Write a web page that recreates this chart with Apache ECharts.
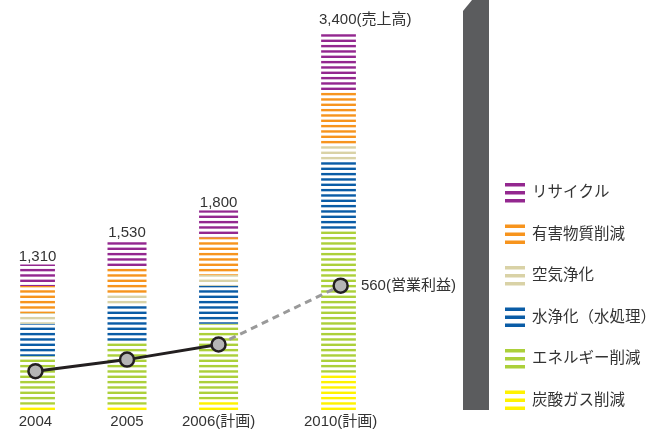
<!DOCTYPE html>
<html><head><meta charset="utf-8">
<script src="https://cdn.jsdelivr.net/npm/echarts@6/dist/echarts.min.js"></script>
<style>html,body{margin:0;padding:0;background:#fff}#c{width:649px;height:430px}</style>
</head><body><div id="c"></div>
<script>
// ---- data ----
const years = ['2004', '2005', '2006(計画)', '2010(計画)'];
const totals = [1310, 1530, 1800, 3400];
const recycle = [194, 239, 243, 527];
const hazardousReduction = [243, 239, 341, 479];
const airPurification = [97, 96, 97, 144];
const waterPurification = [291, 335, 341, 622];
const energySaving = [437, 574, 681, 1293];
const co2Reduction = [48, 47, 97, 335];
const operatingProfit = [175, 227, 295, 560];
const seriesNames = ['リサイクル', '有害物質削減', '空気浄化', '水浄化（水処理）', 'エネルギー削減', '炭酸ガス削減'];
const totalSuffix = ['', '', '', '(売上高)'];
const profitSuffix = '(営業利益)';

// ---- layout ----
const SLOT = [0, 3, 6, 10];
const NSLOTS = 11;
const FONT = '"Liberation Sans", "Noto Sans CJK JP", sans-serif';
const TXT = '#333333';

const colors = ['#93278f', '#f7941d', '#d9d2a6', '#0a5ca6', '#acd03a', '#fff200'];
const values = [recycle, hazardousReduction, airPurification, waterPurification, energySaving, co2Reduction];

function stripe(color) {
  const c = document.createElement('canvas');
  c.width = 4; c.height = 16;
  const ctx = c.getContext('2d');
  ctx.fillStyle = color;
  for (let k = 0; k < 3; k++) {
    const y = 16 / 3 * (k + 1) - 2.4;
    ctx.fillRect(0, y, 4, 2.4);
  }
  return { image: c, repeat: 'repeat', x: 0, y: 10 };
}

const cats = [];
for (let i = 0; i < NSLOTS; i++) cats.push('');
SLOT.forEach((s, i) => cats[s] = years[i]);

function spread(arr, mapFn) {
  const out = [];
  for (let i = 0; i < NSLOTS; i++) out.push(null);
  SLOT.forEach((s, i) => out[s] = mapFn ? mapFn(arr[i], i) : arr[i]);
  return out;
}

const barSeries = [];
// bottom to top
for (let k = values.length - 1; k >= 0; k--) {
  const isTop = k === 0;
  barSeries.push({
    type: 'bar',
    name: seriesNames[k],
    stack: 'sales',
    barWidth: 39,
    itemStyle: { color: stripe(colors[k]) },
    emphasis: { disabled: true },
    data: spread(values[k], (v, i) => {
      if (isTop && i === 3) return { value: v, label: { align: 'left', offset: [-19.5, -5] } };
      return v;
    }),
    label: isTop ? {
      show: true,
      position: 'top',
      distance: 0,
      fontFamily: FONT,
      fontSize: 15,
      color: TXT,
      formatter: p => {
        const i = SLOT.indexOf(p.dataIndex);
        return totals[i].toLocaleString('en-US') + totalSuffix[i];
      }
    } : { show: false },
    z: 2
  });
}

const solidData = [];
for (let i = 0; i < NSLOTS; i++) solidData.push(null);
[0, 1, 2].forEach(i => solidData[SLOT[i]] = operatingProfit[i]);
const dashedData = [];
for (let i = 0; i < NSLOTS; i++) dashedData.push(null);
dashedData[SLOT[2]] = { value: operatingProfit[2], symbol: 'none' };
dashedData[SLOT[3]] = {
  value: operatingProfit[3],
  label: {
    show: true, position: 'right', distance: 12,
    fontFamily: FONT, fontSize: 15, color: TXT,
    formatter: () => operatingProfit[3] + profitSuffix
  }
};

const symStyle = { color: '#b5b5b5', borderColor: '#231f20', borderWidth: 2.5 };

const option = {
  animation: false,
  backgroundColor: '#ffffff',
  grid: { left: 20.2, width: 335.7, top: 10.4, bottom: 20 },
  xAxis: {
    type: 'category',
    data: cats,
    axisLine: { show: false },
    axisTick: { show: false },
    axisLabel: { interval: 0, margin: 4, fontFamily: FONT, fontSize: 15, color: TXT }
  },
  yAxis: [
    { type: 'value', min: 0, max: 3600, show: false, splitLine: { show: false } },
    { type: 'value', min: 0, max: 1800, show: false, splitLine: { show: false } }
  ],
  legend: {
    orient: 'vertical',
    left: 505,
    top: 183,
    padding: 0,
    itemWidth: 20,
    itemHeight: 19.5,
    itemGap: 22,
    selectedMode: false,
    textStyle: { fontFamily: FONT, fontSize: 15.5, color: TXT, padding: [0, 0, 0, 2] },
    data: seriesNames.map((n, k) => ({
      name: n,
      icon: 'path://M0,0H20V3.5H0Z M0,8H20V11.5H0Z M0,16H20V19.5H0Z',
      itemStyle: { color: colors[k], borderWidth: 0 }
    }))
  },
  graphic: [{
    type: 'polygon',
    shape: { points: [[463, 11], [472, 0], [489, 0], [489, 410], [463, 410]] },
    style: { fill: '#5b5c5e' },
    silent: true
  }],
  series: barSeries.concat([
    {
      type: 'line', name: 'dashed', yAxisIndex: 1, data: dashedData, connectNulls: true,
      symbol: 'circle', symbolSize: 14, itemStyle: symStyle,
      lineStyle: { color: '#9a9a9a', width: 3, type: [7, 5] },
      emphasis: { disabled: true }, z: 3
    },
    {
      type: 'line', name: 'solid', yAxisIndex: 1, data: solidData, connectNulls: true,
      symbol: 'circle', symbolSize: 14, showSymbol: true, itemStyle: symStyle,
      lineStyle: { color: '#231f20', width: 3 },
      emphasis: { disabled: true }, z: 4
    }
  ])
};

const chart = echarts.init(document.getElementById('c'));
chart.setOption(option);
</script>
</body></html>
